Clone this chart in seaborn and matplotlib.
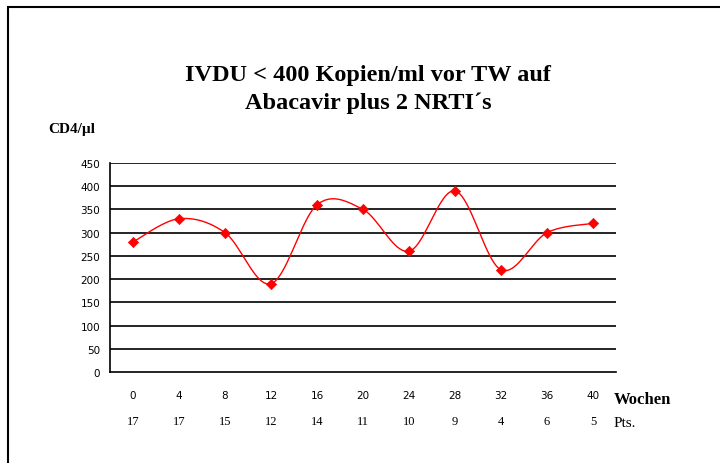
import numpy as np
import pandas as pd
import matplotlib
matplotlib.use('Agg')
import matplotlib.pyplot as plt
import seaborn as sns
from matplotlib.patches import Rectangle

# data
wochen = ['0', '4', '8', '12', '16', '20', '24', '28', '32', '36', '40']
pts = ['17', '17', '15', '12', '14', '11', '10', '9', '4', '6', '5']
cd4 = [280, 330, 300, 190, 360, 350, 260, 390, 220, 300, 320]
yticks = [0, 50, 100, 150, 200, 250, 300, 350, 400, 450]

df = pd.DataFrame({'pos': np.arange(len(wochen)), 'cd4': cd4})


def smooth(x, y, n=20):
    # Catmull-Rom style smoothing, like the spreadsheet's "smoothed line"
    x = np.asarray(x, float)
    y = np.asarray(y, float)
    px = np.concatenate([[x[0]], x, [x[-1]]])
    py = np.concatenate([[y[0]], y, [y[-1]]])
    xs, ys = [], []
    for i in range(1, len(px) - 2):
        t = np.linspace(0, 1, n, endpoint=False)
        for arr, out in ((px, xs), (py, ys)):
            p0, p1, p2, p3 = arr[i - 1], arr[i], arr[i + 1], arr[i + 2]
            c1 = p1 + (p2 - p0) / 6
            c2 = p2 - (p3 - p1) / 6
            out.extend((1 - t) ** 3 * p1 + 3 * (1 - t) ** 2 * t * c1
                       + 3 * (1 - t) * t ** 2 * c2 + t ** 3 * p2)
    xs.append(x[-1])
    ys.append(y[-1])
    return pd.DataFrame({'pos': xs, 'cd4': ys})


curve = smooth(df['pos'], df['cd4'])

sns.set_style('white')
plt.rcParams.update({'text.color': 'black', 'xtick.color': 'black', 'ytick.color': 'black',
                     'axes.labelcolor': 'black'})
fig = plt.figure(figsize=(7.2, 4.64), dpi=100)
ax = fig.add_axes([110 / 720, 1 - 373 / 464, 506 / 720, 209 / 464])

sns.lineplot(data=curve, x='pos', y='cd4', ax=ax, color='#ff0000', lw=1.0, sort=False)
sns.scatterplot(data=df, x='pos', y='cd4', ax=ax, color='#ff0000', marker='D', s=28,
                edgecolor='#ff0000', zorder=5)

ax.set_xlim(-0.5, len(wochen) - 0.5)
ax.set_ylim(0, 450)
ax.set_yticks(yticks)
ax.set_yticklabels([str(v) for v in yticks], fontsize=7.5, family='DejaVu Sans')
for v in yticks[1:]:
    ax.axhline(v, color='black', lw=1.2, zorder=1)

ax.set_xticks(np.arange(-0.5, len(wochen)), minor=True)
ax.set_xticks(np.arange(len(wochen)))
ax.set_xticklabels(wochen, fontsize=7.5, family='DejaVu Sans')
ax.tick_params(axis='x', which='major', length=0, pad=13)
ax.tick_params(axis='x', which='minor', length=4, width=1, color='black', direction='out')
ax.tick_params(axis='y', length=4, width=1, color='black', direction='out', pad=3)

for s in ['top', 'right']:
    ax.spines[s].set_visible(False)
for s in ['left', 'bottom']:
    ax.spines[s].set_color('black')
    ax.spines[s].set_linewidth(1.2)
ax.set_xlabel('')
ax.set_ylabel('')

# second label row: number of patients
for i, p in enumerate(pts):
    ax.text(i, -0.235, p, transform=ax.get_xaxis_transform(), ha='center', va='center',
            fontsize=9, family='Liberation Serif')
ax.text(0.995, -0.13, 'Wochen', transform=ax.transAxes, ha='left', va='center',
        fontsize=12, fontweight='bold', family='Liberation Serif')
ax.text(0.995, -0.24, 'Pts.', transform=ax.transAxes, ha='left', va='center',
        fontsize=11, family='Liberation Serif')

fig.text(368 / 720, 1 - 75 / 464, 'IVDU < 400 Kopien/ml vor TW auf', ha='center', va='center',
         fontsize=17.5, fontweight='bold', family='Liberation Serif')
fig.text(368 / 720, 1 - 103 / 464, 'Abacavir plus 2 NRTI´s', ha='center', va='center',
         fontsize=17.5, fontweight='bold', family='Liberation Serif')
fig.text(48 / 720, 1 - 130 / 464, 'CD4/µl', ha='left', va='center',
         fontsize=11, fontweight='bold', family='Liberation Serif')

fig.patches.append(Rectangle((8 / 720, -0.1), 1.0, 1 - 8 / 464 + 0.1, transform=fig.transFigure,
                             fill=False, edgecolor='black', lw=1.5))

fig.savefig('out.png', dpi=100)
